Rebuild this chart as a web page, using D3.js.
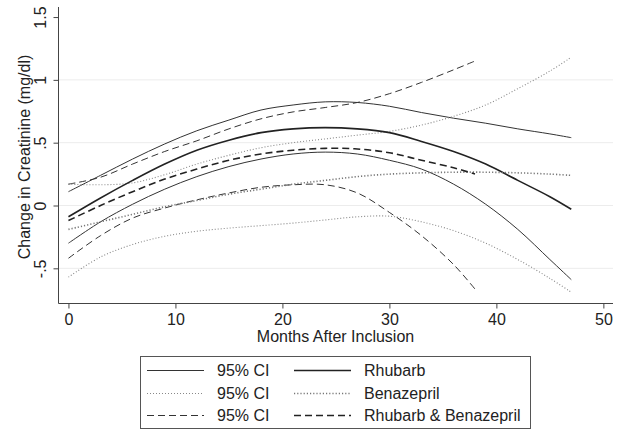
<!DOCTYPE html>
<html>
<head>
<meta charset="utf-8">
<script src="https://cdn.jsdelivr.net/npm/d3@7"></script>
<style>
  body { margin: 0; background: #fff; }
  text { font-family: "Liberation Sans", Arial, sans-serif; fill: #222; }
</style>
</head>
<body>
<svg id="grafico"></svg>
<script>
// months sampled along the fitted curves
var meses = [0, 3, 6, 9, 12, 15, 18, 21, 24, 27, 30, 33, 36, 39, 42, 45, 47];
var mesesCombo = [0, 3, 6, 9, 12, 15, 18, 21, 24, 27, 30, 33, 36, 38];

var rhubarb   = [-0.09, 0.06, 0.20, 0.33, 0.44, 0.52, 0.58, 0.61, 0.62, 0.61, 0.58, 0.51, 0.43, 0.33, 0.20, 0.07, -0.03];
var rhubarbLo = [-0.30, -0.13, 0.01, 0.13, 0.23, 0.31, 0.37, 0.41, 0.425, 0.41, 0.36, 0.29, 0.17, 0.01, -0.19, -0.43, -0.59];
var rhubarbHi = [0.11, 0.24, 0.37, 0.49, 0.595, 0.68, 0.76, 0.80, 0.825, 0.82, 0.79, 0.74, 0.695, 0.655, 0.61, 0.57, 0.54];

var benaz   = [-0.19, -0.13, -0.07, -0.01, 0.04, 0.09, 0.13, 0.17, 0.20, 0.23, 0.25, 0.26, 0.265, 0.265, 0.26, 0.25, 0.24];
var benazLo = [-0.57, -0.41, -0.31, -0.245, -0.205, -0.18, -0.16, -0.14, -0.115, -0.09, -0.085, -0.13, -0.20, -0.30, -0.43, -0.58, -0.69];
var benazHi = [0.17, 0.165, 0.18, 0.245, 0.33, 0.40, 0.46, 0.50, 0.53, 0.56, 0.59, 0.64, 0.71, 0.80, 0.93, 1.07, 1.18];

var combo   = [-0.12, 0.0, 0.11, 0.21, 0.29, 0.36, 0.41, 0.44, 0.455, 0.45, 0.42, 0.36, 0.30, 0.25];
var comboLo = [-0.42, -0.24, -0.10, -0.02, 0.045, 0.10, 0.145, 0.165, 0.165, 0.10, -0.055, -0.24, -0.47, -0.665];
var comboHi = [0.17, 0.225, 0.33, 0.43, 0.515, 0.61, 0.69, 0.745, 0.78, 0.82, 0.89, 0.98, 1.08, 1.15];

var ticksX = [0, 10, 20, 30, 40, 50];
var ticksY = [-0.5, 0, 0.5, 1, 1.5];
var gradeY = [-0.5, 0, 0.5, 1];
var rotulosY = ['-.5', '0', '.5', '1', '1.5'];

var largura = 624, altura = 430;
var svg = d3.select('#grafico').attr('width', largura).attr('height', altura);

var x = d3.scaleLinear().domain([-0.93, 50.9]).range([58.5, 613]);
var y = d3.scaleLinear().domain([-0.78, 1.58]).range([303.5, 7]);

// gridlines
svg.selectAll('.grade')
  .data(gradeY)
  .enter().append('line')
    .attr('x1', 59).attr('x2', 613)
    .attr('y1', d => y(d)).attr('y2', d => y(d))
    .attr('stroke', '#ececec').attr('stroke-width', 1);

var eixoX = svg.append('g')
  .attr('transform', 'translate(0,303.5)')
  .call(d3.axisBottom(x).tickValues(ticksX).tickSize(5).tickPadding(5));
eixoX.select('.domain').attr('d', 'M58.5,0H613');

var eixoY = svg.append('g')
  .attr('transform', 'translate(58.5,0)')
  .call(d3.axisLeft(y).tickValues(ticksY).tickSize(5).tickFormat((d, i) => rotulosY[i]));
eixoY.select('.domain').attr('d', 'M0,7V303.5');

[eixoX, eixoY].forEach(function (e) {
  e.selectAll('.domain').attr('stroke', '#444');
  e.selectAll('.tick line').attr('stroke', '#444');
  e.selectAll('.tick text').style('font-size', '16px').attr('fill', '#222');
});
eixoY.selectAll('.tick text')
  .attr('x', null).attr('dy', null)
  .attr('text-anchor', 'middle')
  .attr('transform', 'translate(-12.5,0) rotate(-90)');

svg.append('text')
  .attr('text-anchor', 'middle')
  .attr('transform', 'translate(335.5,342)')
  .style('font-size', '16px')
  .text('Months After Inclusion');

svg.append('text')
  .attr('text-anchor', 'middle')
  .attr('transform', 'translate(30,157) rotate(-90)')
  .style('font-size', '16px')
  .text('Change in Creatinine (mg/dl)');

// line styles
var estilos = {
  ciSolid:  {cor: '#333', larg: 1,   traco: null},
  ciDot:    {cor: '#888', larg: 1.1, traco: '1,2'},
  ciDash:   {cor: '#333', larg: 1,   traco: '7,4'},
  rhubarb:  {cor: '#222', larg: 1.6, traco: null},
  benaz:    {cor: '#777', larg: 1.6, traco: '1.2,2'},
  combo:    {cor: '#222', larg: 1.6, traco: '7,4'}
};

var series = [
  {mx: meses, v: rhubarbHi, e: 'ciSolid'},
  {mx: meses, v: rhubarbLo, e: 'ciSolid'},
  {mx: meses, v: benazHi, e: 'ciDot'},
  {mx: meses, v: benazLo, e: 'ciDot'},
  {mx: mesesCombo, v: comboHi, e: 'ciDash'},
  {mx: mesesCombo, v: comboLo, e: 'ciDash'},
  {mx: meses, v: rhubarb, e: 'rhubarb'},
  {mx: meses, v: benaz, e: 'benaz'},
  {mx: mesesCombo, v: combo, e: 'combo'}
];

var linha = d3.line()
  .x(d => x(d[0]))
  .y(d => y(d[1]))
  .curve(d3.curveCatmullRom.alpha(0.5));

svg.selectAll('.curva')
  .data(series)
  .enter().append('path')
    .attr('d', s => linha(s.mx.map((m, i) => [m, s.v[i]])))
    .attr('fill', 'none')
    .attr('stroke', s => estilos[s.e].cor)
    .attr('stroke-width', s => estilos[s.e].larg)
    .attr('stroke-dasharray', s => estilos[s.e].traco);

// legend
var legenda = svg.append('g');
legenda.append('rect')
  .attr('x', 140.5).attr('y', 356.5).attr('width', 390).attr('height', 72)
  .attr('fill', '#fff').attr('stroke', '#555').attr('stroke-width', 1);

var itens = [
  {e: 'ciSolid', t: '95% CI', col: 0, lin: 0},
  {e: 'ciDot', t: '95% CI', col: 0, lin: 1},
  {e: 'ciDash', t: '95% CI', col: 0, lin: 2},
  {e: 'rhubarb', t: 'Rhubarb', col: 1, lin: 0},
  {e: 'benaz', t: 'Benazepril', col: 1, lin: 1},
  {e: 'combo', t: 'Rhubarb & Benazepril', col: 1, lin: 2}
];
var colX = [147, 294];
var linY = [370.5, 393.5, 415.5];

var item = legenda.selectAll('.item')
  .data(itens)
  .enter().append('g');
item.append('line')
  .attr('x1', d => colX[d.col]).attr('x2', d => colX[d.col] + 57)
  .attr('y1', d => linY[d.lin]).attr('y2', d => linY[d.lin])
  .attr('stroke', d => estilos[d.e].cor)
  .attr('stroke-width', d => estilos[d.e].larg)
  .attr('stroke-dasharray', d => estilos[d.e].traco);
item.append('text')
  .attr('x', d => colX[d.col] + 70)
  .attr('y', d => linY[d.lin] + 5.5)
  .style('font-size', '16px')
  .text(d => d.t);
</script>
</body>
</html>
